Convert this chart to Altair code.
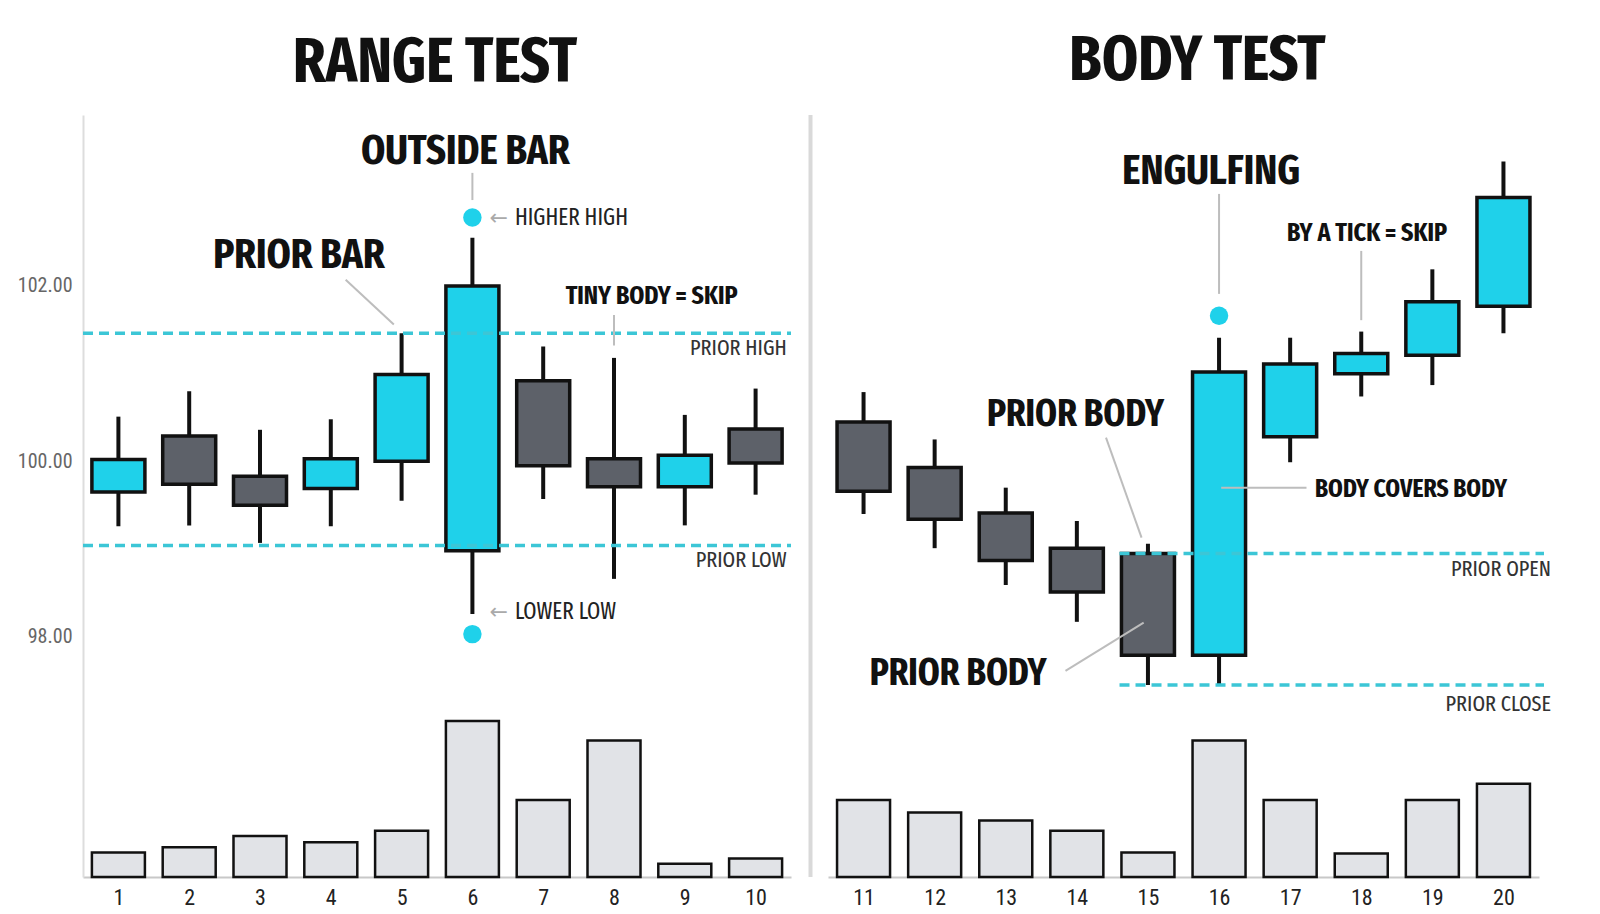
import altair as alt
import pandas as pd

# candles 1-10 = range test, 11-20 = body test
candle = list(range(1, 21))
open_ = [99.65, 100.29, 99.83, 99.69, 100.00, 98.98, 100.92, 100.03, 99.71, 100.37,
         100.45, 99.93, 99.41, 99.01, 98.95, 97.79, 100.28, 101.00, 101.21, 101.77]
high = [100.51, 100.80, 100.36, 100.48, 101.46, 102.55, 101.31, 101.18, 100.53, 100.83,
        100.79, 100.25, 99.70, 99.32, 99.06, 101.41, 101.41, 101.48, 102.19, 103.42]
low = [99.26, 99.27, 99.07, 99.26, 99.55, 98.26, 99.57, 98.66, 99.27, 99.62,
       99.40, 99.01, 98.59, 98.17, 97.45, 97.45, 99.99, 100.74, 100.87, 101.46]
close = [100.02, 99.74, 99.50, 100.03, 100.99, 102.00, 99.95, 99.71, 100.07, 99.98,
         99.66, 99.34, 98.87, 98.51, 97.79, 101.02, 101.11, 101.23, 101.82, 103.01]
volume = [240, 290, 400, 340, 450, 1520, 750, 1330, 130, 180,
          750, 630, 550, 450, 240, 1330, 750, 230, 750, 910]

# reference levels drawn as dashed lines
level_name = ["PRIOR HIGH", "PRIOR LOW", "PRIOR OPEN", "PRIOR CLOSE"]
level_price = [101.46, 99.04, 98.95, 97.45]
level_from = [0.5, 0.5, 14.6, 14.6]
level_to = [10.5, 10.5, 20.57, 20.57]
level_label_x = [10.44, 10.44, 20.67, 20.67]
level_label_y = [101.29, 98.88, 98.77, 97.23]

# markers
dot_x = [6, 6, 16]
dot_y = [102.78, 98.03, 101.66]

# callouts
head_text = ["OUTSIDE BAR", "PRIOR BAR", "TINY BODY = SKIP",
             "ENGULFING", "BY A TICK = SKIP", "PRIOR BODY", "BODY COVERS BODY", "PRIOR BODY"]
head_x = [5.9, 3.55, 8.53, 15.89, 18.08, 13.98, 17.35, 12.33]
head_y = [103.54, 102.35, 101.89, 103.31, 102.61, 100.53, 99.69, 97.58]
head_size = [42, 42, 26, 42, 26, 38, 25.5, 38]
head_align = ["center", "center", "center", "center", "center", "center", "left", "center"]

note_text = ["HIGHER HIGH", "LOWER LOW"]
note_x = [6.6, 6.6]
note_y = [102.78, 98.28]

leader_x = [6.0, 4.21, 8.0, 16.0, 18.0, 14.41, 16.03, 13.84]
leader_y = [103.29, 102.07, 101.67, 103.05, 102.40, 100.27, 99.70, 97.61]
leader_x2 = [6.0, 4.89, 8.0, 16.0, 18.0, 14.91, 17.23, 14.94]
leader_y2 = [102.98, 101.56, 101.32, 101.91, 101.61, 99.13, 99.70, 98.16]

FONT = "Fira Sans Extra Condensed"
NUM_FONT = "Roboto Condensed"
CYAN = "#1fd1ea"
GREY = "#5d6169"
INK = "#111111"
PRICE_DOMAIN = [95.26, 103.95]
H = 762

bars = pd.DataFrame({"candle": candle, "open": open_, "high": high, "low": low,
                     "close": close, "volume": volume})
bars["dir"] = ["up" if c > o else "down" for o, c in zip(open_, close)]
levels = pd.DataFrame({"name": level_name, "price": level_price, "x0": level_from,
                       "x1": level_to, "lx": level_label_x, "ly": level_label_y})
dots = pd.DataFrame({"x": dot_x, "y": dot_y})
heads = pd.DataFrame({"text": head_text, "x": head_x, "y": head_y,
                      "size": head_size, "align": head_align})
notes = pd.DataFrame({"text": note_text, "x": note_x, "y": note_y})
leaders = pd.DataFrame({"x": leader_x, "y": leader_y, "x2": leader_x2, "y2": leader_y2})


def panel(lo, hi, show_axis, title, title_dx, w):
    inside = f"datum.x >= {lo} && datum.x <= {hi + 0.3}"
    xs = alt.Scale(domain=[lo, hi], nice=False, zero=False, padding=0)
    ys = alt.Scale(domain=PRICE_DOMAIN, nice=False, zero=False, padding=0)
    x_axis = alt.Axis(values=list(range(int(lo + 0.5), int(hi + 0.5) + 1)), format="d",
                      grid=False, ticks=False, labelFontSize=22, labelColor="#222",
                      labelPadding=10, domainColor="#c8c8c8", domainWidth=2,
                      labelFont=NUM_FONT)
    if show_axis:
        y_axis = alt.Axis(values=[98, 100, 102], format=".2f", ticks=False,
                          labelFontSize=20, labelColor="#666", labelPadding=11,
                          domainColor="#dddddd", domainWidth=2, gridColor="#dddddd",
                          gridWidth=1.5, labelFont=NUM_FONT, orient="left")
    else:
        y_axis = alt.Axis(values=[98, 100, 102], labels=False, ticks=False, domain=False,
                          gridColor="#dddddd", gridWidth=1.5, minExtent=0, maxExtent=0,
                          orient="left")

    base = alt.Chart(bars).transform_filter(
        f"datum.candle >= {lo} && datum.candle <= {hi}")

    vol = base.mark_bar(size=53, fill="#e1e3e7", stroke=INK, strokeWidth=2.5).encode(
        x=alt.X("candle:Q", scale=xs, axis=x_axis, title=None),
        y=alt.Y("volume:Q", scale=alt.Scale(domain=[0, 7430], padding=0), axis=None),
    )

    wick = base.mark_rule(color=INK, strokeWidth=4).encode(
        x=alt.X("candle:Q", scale=xs),
        y=alt.Y("low:Q", scale=ys, axis=y_axis, title=None),
        y2="high:Q",
    )
    body = base.mark_bar(size=53, stroke=INK, strokeWidth=3.5).encode(
        x="candle:Q",
        y="open:Q",
        y2="close:Q",
        color=alt.Color("dir:N", scale=alt.Scale(domain=["up", "down"], range=[CYAN, GREY]),
                        legend=None),
    )

    lv = alt.Chart(levels).transform_filter(f"datum.x0 >= {lo} && datum.x0 < {hi}")
    dashed = lv.mark_rule(color="#3cc6d6", strokeWidth=3.5, strokeDash=[10, 6]).encode(
        x="x0:Q", x2="x1:Q", y="price:Q")
    lv_text = lv.mark_text(align="right", baseline="middle", font=FONT, fontSize=22,
                           color="#333").encode(x="lx:Q", y="ly:Q", text="name:N")

    lead = alt.Chart(leaders).transform_filter(inside).mark_rule(
        color="#bdbdbd", strokeWidth=2).encode(x="x:Q", y="y:Q", x2="x2:Q", y2="y2:Q")

    dot = alt.Chart(dots).transform_filter(inside).mark_circle(
        size=340, color=CYAN, opacity=1).encode(x="x:Q", y="y:Q")

    hd = alt.Chart(heads).transform_filter(inside)
    head_c = hd.transform_filter("datum.align == 'center'").mark_text(
        font=FONT, fontWeight="bold", color=INK, baseline="middle", align="center").encode(
        x="x:Q", y="y:Q", text="text:N", size=alt.Size("size:Q", scale=None, legend=None))
    head_l = hd.transform_filter("datum.align == 'left'").mark_text(
        font=FONT, fontWeight="bold", color=INK, baseline="middle", align="left").encode(
        x="x:Q", y="y:Q", text="text:N", size=alt.Size("size:Q", scale=None, legend=None))

    nt = alt.Chart(notes).transform_filter(inside)
    note = nt.mark_text(font=FONT, fontSize=23, color="#222", align="left",
                        baseline="middle").encode(x="x:Q", y="y:Q", text="text:N")
    arrow = nt.mark_text(font="DejaVu Sans", fontSize=22, color="#aaaaaa", align="right",
                         baseline="middle", dx=-7).encode(x="x:Q", y="y:Q", text=alt.value("←"))

    layers = [wick, body, dashed, lv_text, lead, dot, head_c, head_l, note, arrow]
    if not show_axis:
        divider = alt.Chart(bars).transform_filter("datum.candle == 11").mark_rule(
            color="#d9d9d9", strokeWidth=4).encode(
            x=alt.value(-17.5), y=alt.value(0), y2=alt.value(H))
        layers.append(divider)
    price = alt.layer(*layers)

    return alt.layer(vol, price).resolve_scale(y="independent").properties(
        width=w, height=H,
        title=alt.TitleParams(title, fontSize=63, font=FONT, fontWeight="bold",
                              color=INK, anchor="middle", offset=20, dx=title_dx),
    )


left = panel(0.5, 10.5, True, "RANGE TEST", -2, 708)
right = panel(10.5, 20.5, False, "BODY TEST", 14, 711)

chart = alt.hconcat(left, right, spacing=15).properties(
    padding={"left": 9, "top": 22, "right": 10, "bottom": 0},
    background="white",
).configure_view(stroke=None)

chart.save("out.html", embed_options={"renderer": "svg", "actions": False})
